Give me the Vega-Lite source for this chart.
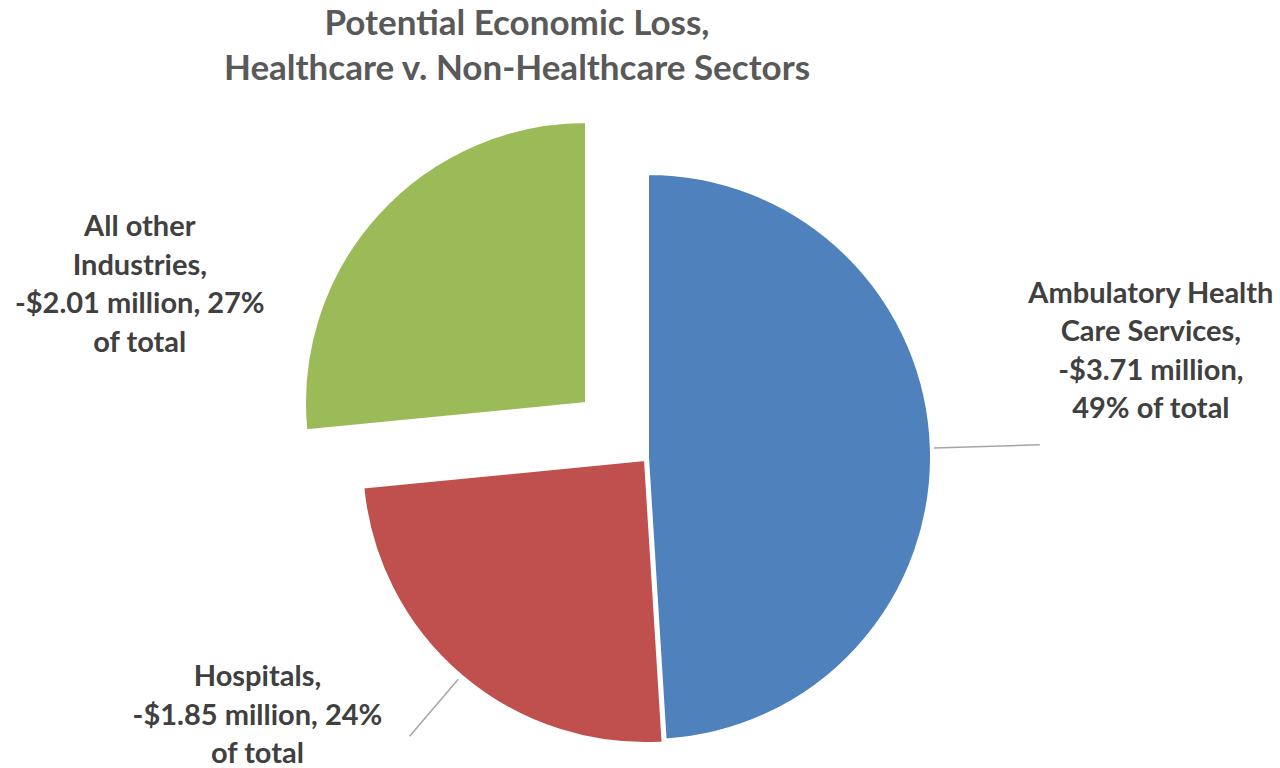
{
  "$schema": "https://vega.github.io/schema/vega-lite/v6.json",
  "width": 1264,
  "height": 622,
  "autosize": {"type": "none"},
  "padding": {"left": 16, "top": 146, "right": 0, "bottom": 0},
  "background": "white",
  "title": {
    "text": ["Potential Economic Loss,", "Healthcare v. Non-Healthcare Sectors"],
    "font": "Lato",
    "fontSize": 35,
    "fontWeight": "bold",
    "color": "#595959",
    "lineHeight": 45,
    "anchor": "middle",
    "frame": "group",
    "dx": -131,
    "offset": 31
  },
  "data": {
    "values": [
      {"sector": "Ambulatory Health Care Services", "loss": 3.71, "rank": 1, "label": "Ambulatory Health\nCare Services,\n-$3.71 million,\n49% of total"},
      {"sector": "Hospitals", "loss": 1.85, "rank": 2, "label": "Hospitals,\n-$1.85 million, 24%\nof total"},
      {"sector": "All other Industries", "loss": 2.01, "rank": 3, "label": "All other\nIndustries,\n-$2.01 million, 27%\nof total"}
    ]
  },
  "encoding": {
    "theta": {"field": "loss", "type": "quantitative", "stack": true},
    "order": {"field": "rank", "type": "quantitative"}
  },
  "layer": [
    {
      "mark": {"type": "arc", "outerRadius": 283, "stroke": "white", "strokeWidth": 2},
      "encoding": {
        "color": {"field": "sector", "type": "nominal", "legend": null,
          "scale": {"domain": ["Ambulatory Health Care Services", "Hospitals", "All other Industries"], "range": ["#4F81BD", "#C0504D", "#9BBB59"]}},
        "opacity": {"condition": {"test": "datum.sector === 'Ambulatory Health Care Services'", "value": 1}, "value": 0}
      }
    },
    {
      "mark": {"type": "arc", "outerRadius": 283, "stroke": "white", "strokeWidth": 2, "xOffset": -3, "yOffset": 3},
      "encoding": {
        "color": {"field": "sector", "type": "nominal", "legend": null},
        "opacity": {"condition": {"test": "datum.sector === 'Hospitals'", "value": 1}, "value": 0}
      }
    },
    {
      "mark": {"type": "arc", "outerRadius": 281, "stroke": "white", "strokeWidth": 2, "xOffset": -62, "yOffset": -54},
      "encoding": {
        "color": {"field": "sector", "type": "nominal", "legend": null},
        "opacity": {"condition": {"test": "datum.sector === 'All other Industries'", "value": 1}, "value": 0}
      }
    },
    {
      "mark": {"type": "arc", "innerRadius": 286, "outerRadius": 392, "padAngle": 3, "fill": "transparent", "stroke": "#a6a6a6", "strokeWidth": 1.5},
      "encoding": {
        "opacity": {"condition": {"test": "datum.sector === 'Ambulatory Health Care Services'", "value": 1}, "value": 0}
      }
    },
    {
      "mark": {"type": "arc", "innerRadius": 288, "outerRadius": 363, "padAngle": 3, "fill": "transparent", "stroke": "#a6a6a6", "strokeWidth": 1.5, "xOffset": -3, "yOffset": 3},
      "encoding": {
        "opacity": {"condition": {"test": "datum.sector === 'Hospitals'", "value": 1}, "value": 0}
      }
    },
    {
      "mark": {"type": "text", "radius": 240, "dx": 263, "dy": -156, "font": "Lato", "fontSize": 29, "fontWeight": "bold", "fill": "#404040", "lineBreak": "\n", "lineHeight": 38.5, "align": "center", "baseline": "middle"},
      "encoding": {
        "text": {"condition": {"test": "datum.sector === 'Ambulatory Health Care Services'", "field": "label", "type": "nominal"}, "value": ""}
      }
    },
    {
      "mark": {"type": "text", "radius": 300, "dx": -196, "dy": -8, "font": "Lato", "fontSize": 29, "fontWeight": "bold", "fill": "#404040", "lineBreak": "\n", "lineHeight": 38.5, "align": "center", "baseline": "middle"},
      "encoding": {
        "text": {"condition": {"test": "datum.sector === 'Hospitals'", "field": "label", "type": "nominal"}, "value": ""}
      }
    },
    {
      "mark": {"type": "text", "radius": 300, "dx": -286, "dy": -28, "font": "Lato", "fontSize": 29, "fontWeight": "bold", "fill": "#404040", "lineBreak": "\n", "lineHeight": 38.5, "align": "center", "baseline": "middle"},
      "encoding": {
        "text": {"condition": {"test": "datum.sector === 'All other Industries'", "field": "label", "type": "nominal"}, "value": ""}
      }
    }
  ]
}
